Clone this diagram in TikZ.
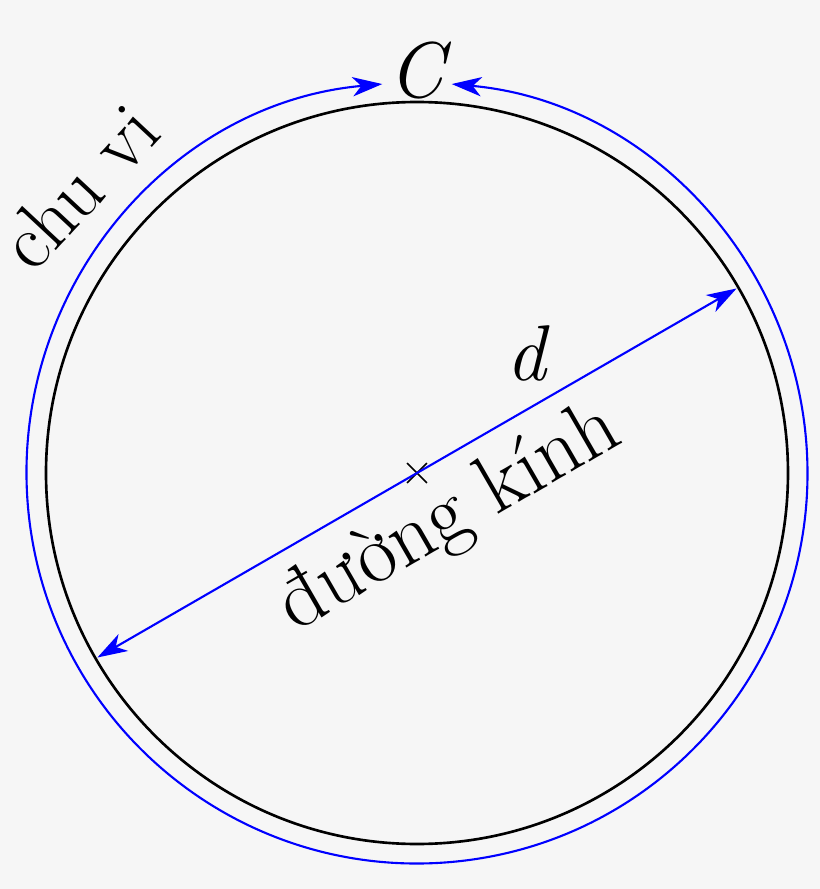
\documentclass[tikz,border=0pt]{standalone}
\usepackage{fontspec}
\usetikzlibrary{arrows.meta, shapes.misc}
\definecolor{bggray}{RGB}{246,246,246}

\begin{document}
\begin{tikzpicture}[>={Stealth[length=17pt, width=11pt, inset=5pt]},
    every node/.style={font=\fontsize{48}{56}\selectfont},
    symb/.style={font=\fontsize{45}{54}\selectfont},
    rim/.style={draw=black, line width=1.5pt},
    measure/.style={draw=blue, line width=1.2pt, <->}]
  \fill[bggray] (-8.34,-8.32) rectangle (8.06,9.46);
  \useasboundingbox (-8.34,-8.32) rectangle (8.06,9.46);
  \node[draw, cross out, minimum size=0.36cm, inner sep=0pt, line width=1pt] (O) at (0,0) {};
  \draw[rim] (O.center) circle (7.42);
  % diameter
  \coordinate (A) at (30:7.38);
  \coordinate (B) at (210:7.38);
  \draw[measure] (B) -- (A);
  % circumference
  \coordinate (Cl) at (95.1:7.81);
  \draw[measure] (Cl) arc[start angle=95.1, end angle=444.9, radius=7.81];
  \node[symb] (C) at (0.06,8.06) {\textit{C}};
  \node[symb] (d) at (2.22,2.40) {\textit{d}};
  \node[rotate=47, font=\fontsize{45}{52}\selectfont] (chuvi) at (-6.76,5.74) {chu vi};
  \node[rotate=30] (duongkinh) at (0.66,-0.92) {đường kính};
\end{tikzpicture}
\end{document}
